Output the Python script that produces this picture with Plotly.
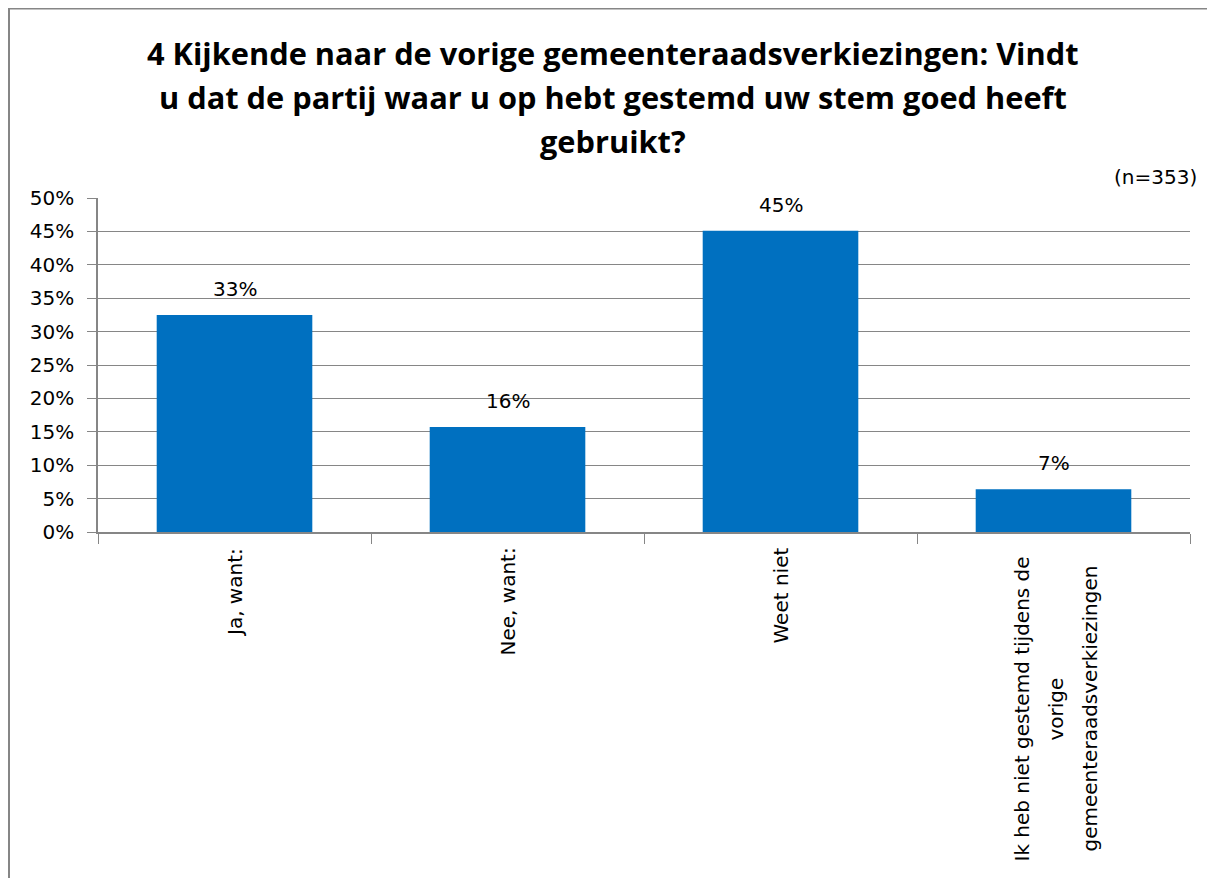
import plotly.graph_objects as go

categories = ["Ja, want:", "Nee, want:", "Weet niet",
              "Ik heb niet gestemd tijdens de<br>vorige<br>gemeenteraadsverkiezingen"]
values = [0.325, 0.157, 0.451, 0.064]
value_labels = ["33%", "16%", "45%", "7%"]
title_lines = ["4 Kijkende naar de vorige gemeenteraadsverkiezingen: Vindt",
               "u dat de partij waar u op hebt gestemd uw stem goed heeft",
               "gebruikt?"]
n_label = "(n=353)"

# the page body has an 8px margin; work in reference-pixel coordinates
OFF = 8
W, H = 1215 - 2 * OFF, 886 - 2 * OFF
PL, PR, PT, PB = 98, 1190, 198, 532        # plot area in reference px
L, R, T, B = PL - OFF, W - (PR - OFF), PT - OFF, H - (PB - OFF)
pw, ph = PR - PL, PB - PT

def px_x(x):
    return (x - PL) / pw

def px_y(y):
    return (PB - y) / ph

FONT = "DejaVu Sans"
TFONT = "Open Sans"
grey = "#868686"

fig = go.Figure()
fig.add_trace(go.Bar(x=categories, y=values, marker=dict(color="#0070C0", line=dict(width=0)),
                     width=0.57, hoverinfo="skip"))

# value labels
for c, v, t in zip(categories, values, value_labels):
    fig.add_annotation(x=c, y=v, text=t, showarrow=False, yanchor="middle", yshift=26,
                       font=dict(family=FONT, size=20, color="#000"))

# category labels (rotated, multi-line centred)
for c in categories:
    lines = c.split("<br>")
    n = len(lines)
    for i, ln in enumerate(lines):
        if n == 1:
            fig.add_annotation(x=c, y=px_y(546), yref="paper", text=ln, showarrow=False,
                               textangle=-90, xanchor="center", yanchor="top",
                               font=dict(family=FONT, size=20, color="#000"))
        else:
            fig.add_annotation(x=c, y=px_y(709), yref="paper", text=ln, showarrow=False,
                               textangle=-90, xanchor="center", yanchor="middle",
                               xshift=(i - (n - 1) / 2) * 34 + 2,
                               font=dict(family=FONT, size=20, color="#000"))

fig.add_annotation(xref="paper", yref="paper", x=px_x(1199), y=px_y(177), text=n_label,
                   showarrow=False, xanchor="right", yanchor="middle",
                   font=dict(family=FONT, size=20, color="#000"))

title_y = [53, 97, 141]
for ln, ty in zip(title_lines, title_y):
    fig.add_annotation(xref="paper", yref="paper", x=px_x(613), y=px_y(ty), text=ln,
                       showarrow=False, xanchor="center", yanchor="middle",
                       font=dict(family=TFONT, size=30.75, color="#000", weight="bold"))

# outer chart frame (left and top edges visible in the reference)
fig.add_shape(type="line", xref="paper", yref="paper",
              x0=px_x(9), x1=px_x(9), y0=px_y(8.5), y1=px_y(950),
              line=dict(color=grey, width=2), layer="below")
fig.add_shape(type="line", xref="paper", yref="paper",
              x0=px_x(8), x1=px_x(1260), y0=px_y(8.5), y1=px_y(8.5),
              line=dict(color=grey, width=2), layer="below")

fig.update_layout(
    width=W, height=H, autosize=False,
    margin=dict(l=L, r=R, t=T, b=B),
    paper_bgcolor="white", plot_bgcolor="white",
    showlegend=False, bargap=0.43,
    font=dict(family=FONT, size=20, color="#000"),
)
fig.update_xaxes(type="category", tickson="boundaries", ticks="outside", ticklen=10,
                 tickcolor=grey, tickwidth=1, showline=True, linecolor=grey, linewidth=2,
                 showticklabels=False, showgrid=False)
fig.update_yaxes(range=[0, 0.5], dtick=0.05, tickformat=".0%", ticks="outside", ticklen=9,
                 tickcolor=grey, showline=True, linecolor=grey, linewidth=1.5,
                 showgrid=True, gridcolor=grey, gridwidth=1, zeroline=False,
                 ticklabelstandoff=9,
                 tickfont=dict(family=FONT, size=20, color="#000"))

fig.write_html("out.html")
